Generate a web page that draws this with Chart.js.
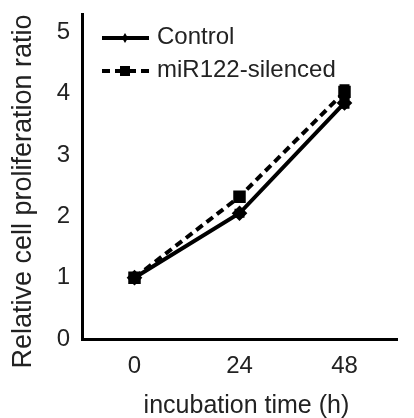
<!DOCTYPE html>
<html>
<head>
<meta charset="utf-8">
<script src="https://cdn.jsdelivr.net/npm/chart.js@4.4.1/dist/chart.umd.min.js"></script>
<style>
html,body{margin:0;padding:0;background:#fff;}
#wrap{width:414px;height:418px;}
</style>
</head>
<body>
<div id="wrap"><canvas id="cc"></canvas></div>
<script>
// data
const hours = ['0', '24', '48'];
const ctrl = [1.0, 2.05, 3.85];
const ctrlErr = [0.03, 0.05, 0.07];
const silenced = [1.0, 2.32, 4.03];
const silencedErr = [0.03, 0.06, 0.1];
const yTicks = [0, 1, 2, 3, 4, 5];

const txt = '#222';
const fnt = "'Liberation Sans', Arial, sans-serif";

// error bars, drawn through the y scale
const errPlug = {
  id: 'errbars',
  afterDatasetsDraw(chart) {
    const c = chart.ctx, ys = chart.scales.y;
    const errs = [ctrlErr, silencedErr];
    chart.data.datasets.forEach(function (ds, i) {
      const meta = chart.getDatasetMeta(i);
      c.save();
      c.strokeStyle = '#000';
      c.lineWidth = 3;
      c.setLineDash([]);
      meta.data.forEach(function (pt, j) {
        const e = errs[i][j];
        const yt = ys.getPixelForValue(ds.data[j] + e);
        const yb = ys.getPixelForValue(ds.data[j] - e);
        c.beginPath();
        c.moveTo(pt.x, yt); c.lineTo(pt.x, yb);
        c.moveTo(pt.x - 5, yt); c.lineTo(pt.x + 5, yt);
        c.moveTo(pt.x - 5, yb); c.lineTo(pt.x + 5, yb);
        c.stroke();
      });
      c.restore();
    });
  }
};

// legend inside the plot, top left
const legPlug = {
  id: 'inlegend',
  afterDraw(chart) {
    const c = chart.ctx, a = chart.chartArea;
    const items = [
      {label: 'Control', dash: [], mark: 'diamond'},
      {label: 'miR122-silenced', dash: [8, 5], mark: 'square'}
    ];
    c.save();
    items.forEach(function (it, k) {
      const y = a.top + 24 + k * 33;
      const x0 = a.left + 20;
      c.strokeStyle = '#000';
      c.lineWidth = 4;
      c.setLineDash(it.dash);
      c.beginPath();
      c.moveTo(x0, y); c.lineTo(x0 + 47, y);
      c.stroke();
      c.setLineDash([]);
      c.fillStyle = '#000';
      const mx = x0 + 23;
      if (it.mark === 'square') {
        c.fillRect(mx - 5, y - 5, 10, 10);
      } else {
        c.beginPath();
        c.moveTo(mx, y - 5); c.lineTo(mx + 3, y); c.lineTo(mx, y + 5); c.lineTo(mx - 3, y);
        c.closePath(); c.fill();
      }
      c.fillStyle = txt;
      c.font = '24px ' + fnt;
      c.textBaseline = 'middle';
      c.fillText(it.label, x0 + 55, y - 1);
    });
    c.restore();
  }
};

new Chart(document.getElementById('cc'), {
  type: 'line',
  data: {
    labels: hours,
    datasets: [{
      label: 'Control',
      data: ctrl,
      borderColor: '#000',
      backgroundColor: '#000',
      borderWidth: 4,
      pointStyle: 'rectRot',
      pointRadius: 5,
      tension: 0
    }, {
      label: 'miR122-silenced',
      data: silenced,
      borderColor: '#000',
      backgroundColor: '#000',
      borderWidth: 4,
      borderDash: [8, 5],
      pointStyle: 'rect',
      pointRadius: 6,
      tension: 0
    }]
  },
  options: {
    responsive: true,
    maintainAspectRatio: false,
    animation: false,
    layout: {padding: {top: 14, right: 17, left: 0, bottom: 0}},
    plugins: {legend: {display: false}, tooltip: {enabled: false}},
    scales: {
      x: {
        offset: true,
        grid: {display: false, drawTicks: false},
        border: {display: true, color: '#000', width: 3},
        ticks: {color: txt, font: {family: fnt, size: 24}, padding: 13},
        title: {display: true, text: '  incubation time (h)', color: txt,
                font: {family: fnt, size: 25}, padding: {top: 0, bottom: -3}},
        afterFit(s) { s.height = 79; }
      },
      y: {
        min: 0,
        max: 5.3,
        grid: {display: false, drawTicks: false},
        border: {display: true, color: '#000', width: 3},
        ticks: {color: txt, font: {family: fnt, size: 24}, padding: 12},
        afterBuildTicks(s) { s.ticks = yTicks.map(function (v) { return {value: v}; }); },
        title: {display: true, text: 'Relative cell proliferation ratio    ', color: txt,
                font: {family: fnt, size: 27}, padding: {top: 7, bottom: 0}},
        afterFit(s) { s.width = 82; s.paddingTop = 0; s.paddingBottom = 0; }
      }
    }
  },
  plugins: [errPlug, legPlug]
});
</script>
</body>
</html>
